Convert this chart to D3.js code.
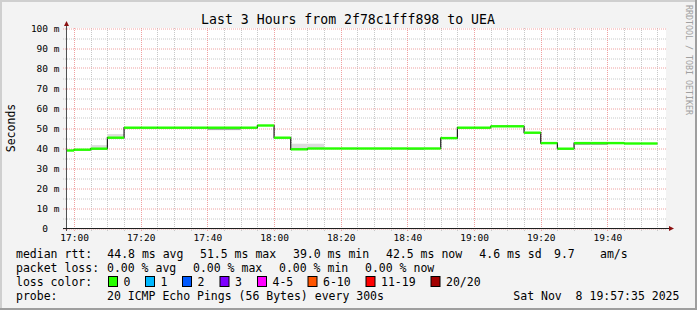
<!DOCTYPE html>
<html><head><meta charset="utf-8">
<script src="https://cdn.jsdelivr.net/npm/d3@7"></script>
<style>
html,body{margin:0;padding:0;background:#f3f3f3;}
svg{display:block;}
text{font-family:"DejaVu Sans Mono",monospace;}
</style></head>
<body>
<script>
// ---------- data ----------
const title = "Last 3 Hours from 2f78c1fff898 to UEA";
const segStarts = ["16:55","17:00","17:05","17:10","17:15","17:20","17:25","17:30","17:35","17:40","17:45","17:50","17:55",
  "18:00","18:05","18:10","18:15","18:20","18:25","18:30","18:35","18:40","18:45","18:50","18:55",
  "19:00","19:05","19:10","19:15","19:20","19:25","19:30","19:35","19:40","19:45","19:50"];
const segEnd = "19:55";
const medianMs = [39.0,39.4,39.9,45.4,50.4,50.4,50.4,50.4,50.4,50.4,50.4,50.4,51.5,
  45.4,39.6,40.0,40.0,40.0,40.0,40.0,40.0,40.0,40.0,45.2,50.4,
  50.4,51.1,51.1,47.9,42.7,39.9,42.7,42.7,42.7,42.5,42.5];
const smokeLoMs = [39.0,39.4,39.9,45.4,50.4,50.4,50.4,50.4,50.4,49.2,49.2,50.4,51.5,
  45.4,39.6,40.0,40.0,40.0,40.0,40.0,40.0,39.3,40.0,45.2,50.4,
  50.4,51.1,51.1,47.9,42.7,39.9,41.8,41.8,42.7,42.5,42.5];
const smokeHiMs = [39.0,39.4,41.7,47.2,50.4,50.4,50.4,50.4,50.4,50.4,50.4,50.4,51.5,
  45.4,42.4,42.4,40.0,40.0,40.0,40.0,40.0,40.0,40.0,45.2,50.4,
  50.4,51.1,51.1,47.9,42.7,39.9,42.7,42.7,42.7,42.5,42.5];
const timeStart = "16:57:35", timeEnd = "19:57:35";
const yTicksMajor = [0,10,20,30,40,50,60,70,80,90,100];
const xTickLabels = ["17:00","17:20","17:40","18:00","18:20","18:40","19:00","19:20","19:40"];
const lossLabels = ["0","1","2","3","4-5","6-10","11-19","20/20"];
const lossColors = ["#26ff00","#00b8ff","#0059ff","#7e00ff","#ff00ff","#ff5500","#ff0000","#a10000"];
const statsRtt = ["44.8 ms avg","51.5 ms max","39.0 ms min","42.5 ms now","4.6 ms sd","9.7","am/s"];
const statsLoss = ["0.00 % avg","0.00 % max","0.00 % min","0.00 % now"];
const probeText = "20 ICMP Echo Pings (56 Bytes) every 300s";
const stamp = "Sat Nov  8 19:57:35 2025";

// ---------- layout ----------
const W=697,H=310, X0=66, X1=666, Y0=228, Y1=28;
const pt = d3.timeParse("%Y-%m-%d %H:%M:%S");
const T = s => pt("2025-11-08 " + (s.length===5 ? s+":00" : s));
const x = d3.scaleTime().domain([T(timeStart),T(timeEnd)]).range([X0,X1]);
const y = d3.scaleLinear().domain([0,100]).range([Y0+0.5,Y1+0.5]);

const svg = d3.select("body").append("svg").attr("width",W).attr("height",H);
svg.append("rect").attr("width",W).attr("height",H).attr("fill","#f3f3f3");
// 3D frame
svg.append("rect").attr("x",0).attr("y",0).attr("width",W).attr("height",2).attr("fill","#cfcfcf");
svg.append("rect").attr("x",0).attr("y",0).attr("width",2).attr("height",H).attr("fill","#cfcfcf");
svg.append("rect").attr("x",0).attr("y",H-2).attr("width",W).attr("height",2).attr("fill","#9e9e9e");
svg.append("rect").attr("x",W-2).attr("y",0).attr("width",2).attr("height",H).attr("fill","#9e9e9e");
// canvas
svg.append("rect").attr("x",X0).attr("y",Y1).attr("width",X1-X0).attr("height",Y0-Y1).attr("fill","#fff");

// grid
const g = svg.append("g");
const minorY = d3.range(0,101,5).filter(v=>v%10!==0);
g.selectAll(".hmin").data(minorY).join("line")
  .attr("x1",X0-3).attr("x2",X1).attr("y1",d=>Math.round(y(d))+0.5-0.5).attr("y2",d=>Math.round(y(d))+0.5-0.5)
  .attr("stroke","#c8c8c8").attr("stroke-dasharray","1,1");
const minorX = d3.timeMinute.every(5).range(T(timeStart),T(timeEnd)).filter(d=>d.getMinutes()%20!==0);
g.selectAll(".vmin").data(minorX).join("line")
  .attr("x1",d=>Math.round(x(d))+0.5).attr("x2",d=>Math.round(x(d))+0.5).attr("y1",Y1).attr("y2",Y0+3)
  .attr("stroke","#c8c8c8").attr("stroke-dasharray","1,1");
g.selectAll(".hmaj").data(yTicksMajor).join("line")
  .attr("x1",X0-3).attr("x2",X1).attr("y1",d=>Math.round(y(d))).attr("y2",d=>Math.round(y(d)))
  .attr("stroke","#f0a0a0").attr("stroke-dasharray","1,1");
g.selectAll(".vmaj").data(xTickLabels).join("line")
  .attr("x1",d=>Math.round(x(T(d)))+0.5).attr("x2",d=>Math.round(x(T(d)))+0.5).attr("y1",Y1).attr("y2",Y0+3)
  .attr("stroke","#f0a0a0").attr("stroke-dasharray","1,1");

// smoke
const segs = segStarts.map((s,i)=>({t0:T(s), t1:T(i<segStarts.length-1?segStarts[i+1]:segEnd), v:medianMs[i], lo:smokeLoMs[i], hi:smokeHiMs[i]}))
  .map(d=>({...d, t0: d.t0<T(timeStart)?T(timeStart):d.t0}));
svg.append("g").selectAll("rect").data(segs.filter(d=>d.hi>d.lo)).join("rect")
  .attr("x",d=>x(d.t0)).attr("width",d=>x(d.t1)-x(d.t0))
  .attr("y",d=>y(d.hi)).attr("height",d=>y(d.lo)-y(d.hi))
  .attr("fill",d=>(d.hi-d.lo)<1.5?"#a8a8a8":"#dcdcdc");

// median dark step line
const pts = segs.map(d=>[d.t0,d.v]).concat([[segs[segs.length-1].t1, segs[segs.length-1].v]]);
svg.append("path").datum(pts)
  .attr("d", d3.line().x(d=>x(d[0])).y(d=>y(d[1])).curve(d3.curveStepAfter))
  .attr("fill","none").attr("stroke","#202020").attr("stroke-width",1.2);
// green loss-colored band
svg.append("g").selectAll("rect").data(segs).join("rect")
  .attr("x",d=>x(d.t0)).attr("width",d=>x(d.t1)-x(d.t0))
  .attr("y",d=>y(d.v)-1.2).attr("height",2.4).attr("fill",lossColors[0]);

// axes
svg.append("line").attr("x1",X0+0.5).attr("x2",X0+0.5).attr("y1",Y0+3).attr("y2",Y1-4).attr("stroke","#505050");
svg.append("line").attr("x1",X0-3).attr("x2",X1+4).attr("y1",Y0+0.5).attr("y2",Y0+0.5).attr("stroke","#202020");
svg.append("path").attr("d",`M${X0-2},${Y1-2} L${X0+3},${Y1-2} L${X0+0.5},${Y1-7} Z`).attr("fill","#8b1010");
svg.append("path").attr("d",`M${X1+3},${Y0-2} L${X1+3},${Y0+3} L${X1+8},${Y0+0.5} Z`).attr("fill","#8b1010");

// axis labels
svg.append("g").selectAll("text").data(yTicksMajor).join("text")
  .attr("x",59.5).attr("y",d=>y(d)+3.5).attr("text-anchor","end")
  .attr("font-size","9.5px").attr("fill","#000").attr("xml:space","preserve")
  .text(d=>d===0?"0\u00a0\u00a0":d+" m");
svg.append("g").selectAll("text").data(xTickLabels).join("text")
  .attr("x",d=>x(T(d))+0.5).attr("y",241).attr("text-anchor","middle")
  .attr("font-size","9.5px").attr("fill","#000").text(d=>d);

// title
svg.append("text").attr("x",348).attr("y",24).attr("text-anchor","middle").attr("font-size","13.2px").text(title);
// y label
svg.append("text").attr("transform","translate(15,128) rotate(-90)").attr("text-anchor","middle")
  .attr("font-size","11.5px").text("Seconds");
// watermark
svg.append("text").attr("transform","translate(686,5) rotate(90)").attr("font-size","8.3px")
  .attr("fill","#a0a0a0").text("RRDTOOL / TOBI OETIKER");

// legend
const fs="11.5px";
const leg = svg.append("g").attr("font-size",fs).attr("fill","#000");
const rows=[258,272,286,300];
leg.append("text").attr("x",16).attr("y",rows[0]).text("median rtt:");
const rttX=[107.3,200,293,386,479.3,554,600];
statsRtt.forEach((s,i)=>leg.append("text").attr("x",rttX[i]).attr("y",rows[0]).text(s));
leg.append("text").attr("x",16).attr("y",rows[1]).text("packet loss:");
const lossX=[107,193,279,365];
statsLoss.forEach((s,i)=>leg.append("text").attr("x",lossX[i]).attr("y",rows[1]).text(s));
leg.append("text").attr("x",16).attr("y",rows[2]).text("loss color:");
const boxX=[108,145,182,219.5,257,307.5,365.5,430.5];
lossLabels.forEach((s,i)=>{
  leg.append("rect").attr("x",boxX[i]+0.5).attr("y",276.5).attr("width",9).attr("height",10)
    .attr("fill",lossColors[i]).attr("stroke","#000").attr("stroke-width",1);
  leg.append("text").attr("x",boxX[i]+15.5).attr("y",rows[2]).text(s);
});
leg.append("text").attr("x",16).attr("y",rows[3]).text("probe:");
leg.append("text").attr("x",107).attr("y",rows[3]).text(probeText);
leg.append("text").attr("x",513.3).attr("y",rows[3]).attr("xml:space","preserve").text(stamp);
</script>
</body></html>
